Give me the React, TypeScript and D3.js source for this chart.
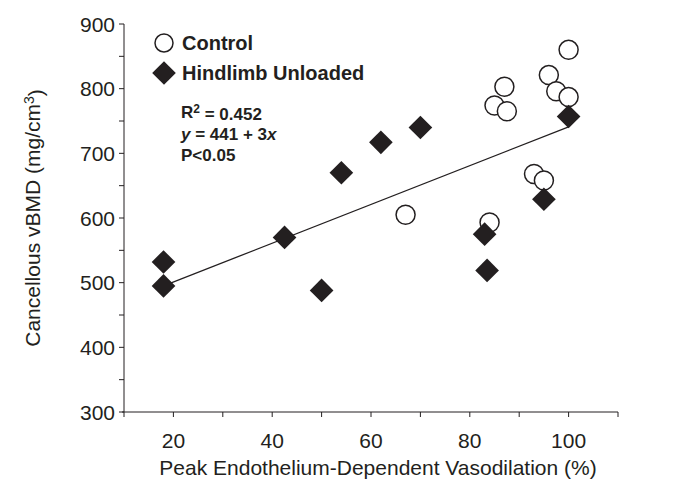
import { useEffect, useRef } from 'react';
import * as d3 from 'd3';

interface Point {
  x: number;
  y: number;
}

// Hindlimb unloaded group (filled diamonds)
const unloadedX = [18, 18, 42.5, 50, 54, 62, 70, 83, 83.5, 95, 100];
const unloadedY = [532, 495, 570, 488, 670, 717, 740, 575, 519, 629, 757];

// Control group (open circles)
const controlX = [67, 84, 85, 87, 87.5, 93, 95, 96, 97.5, 100, 100];
const controlY = [605, 593, 774, 803, 765, 668, 658, 821, 796, 787, 860];

const xTicks = [20, 40, 60, 80, 100];
const yTicks = [300, 400, 500, 600, 700, 800, 900];
const fitRange = [18, 100];
const fitIntercept = 441;
const fitSlope = 3;

const unloaded: Point[] = unloadedX.map((x, i) => ({ x, y: unloadedY[i] }));
const control: Point[] = controlX.map((x, i) => ({ x, y: controlY[i] }));

const INK = '#231f20';
const FONT = '"Liberation Sans", Arial, sans-serif';

const App = () => {
  const ref = useRef<SVGSVGElement>(null);

  useEffect(() => {
    if (!ref.current) return;
    const svg = d3.select(ref.current);
    svg.selectAll('*').remove();

    const x = d3.scaleLinear().domain([10, 110]).range([124, 618]);
    const y = d3.scaleLinear().domain([300, 900]).range([412, 24]);

    const g = svg.append('g');

    // y axis
    g.append('line')
      .attr('x1', x(10)).attr('x2', x(10))
      .attr('y1', y(300)).attr('y2', y(900))
      .attr('stroke', INK).attr('stroke-width', 1);
    d3.range(300, 901, 50).forEach(v => {
      g.append('line')
        .attr('x1', x(10) - 5).attr('x2', x(10))
        .attr('y1', y(v)).attr('y2', y(v))
        .attr('stroke', INK).attr('stroke-width', 1);
    });
    g.selectAll('.ytick')
      .data(yTicks)
      .enter()
      .append('text')
      .attr('x', x(10) - 9)
      .attr('y', d => y(d))
      .attr('dy', '0.36em')
      .attr('text-anchor', 'end')
      .style('font-family', FONT)
      .style('font-size', '21px')
      .style('fill', INK)
      .text(d => d);

    // x axis
    g.append('line')
      .attr('x1', x(10) - 2).attr('x2', x(110))
      .attr('y1', y(300)).attr('y2', y(300))
      .attr('stroke', INK).attr('stroke-width', 1);
    d3.range(10, 111, 10).forEach(v => {
      g.append('line')
        .attr('x1', x(v)).attr('x2', x(v))
        .attr('y1', y(300)).attr('y2', y(300) + 5)
        .attr('stroke', INK).attr('stroke-width', 1);
    });
    g.selectAll('.xtick')
      .data(xTicks)
      .enter()
      .append('text')
      .attr('x', d => x(d))
      .attr('y', y(300) + 36)
      .attr('text-anchor', 'middle')
      .style('font-family', FONT)
      .style('font-size', '21px')
      .style('fill', INK)
      .text(d => d);

    // axis titles
    g.append('text')
      .attr('x', 378)
      .attr('y', 475)
      .attr('text-anchor', 'middle')
      .style('font-family', FONT)
      .style('font-size', '21px')
      .style('fill', INK)
      .text('Peak Endothelium-Dependent Vasodilation (%)');

    const yTitle = g.append('text')
      .attr('transform', `translate(40, ${y(600)}) rotate(-90)`)
      .attr('text-anchor', 'middle')
      .style('font-family', FONT)
      .style('font-size', '21px')
      .style('fill', INK);
    yTitle.append('tspan').text('Cancellous vBMD (mg/cm');
    yTitle.append('tspan').attr('dy', '-0.45em').style('font-size', '14px').text('3');
    yTitle.append('tspan').attr('dy', '0.45em').text(')');

    // regression line
    g.append('line')
      .attr('x1', x(fitRange[0])).attr('y1', y(fitIntercept + fitSlope * fitRange[0]))
      .attr('x2', x(fitRange[1])).attr('y2', y(fitIntercept + fitSlope * fitRange[1]))
      .attr('stroke', INK).attr('stroke-width', 1.3);

    const diamond = d3.symbol().type(d3.symbolSquare).size(280);

    // control circles
    g.selectAll('.ctrl')
      .data(control)
      .enter()
      .append('circle')
      .attr('cx', d => x(d.x))
      .attr('cy', d => y(d.y))
      .attr('r', 9.5)
      .attr('fill', 'white')
      .attr('stroke', INK)
      .attr('stroke-width', 1.5);

    // unloaded diamonds
    g.selectAll('.hu')
      .data(unloaded)
      .enter()
      .append('path')
      .attr('d', diamond() || '')
      .attr('transform', d => `translate(${x(d.x)}, ${y(d.y)}) rotate(45)`)
      .attr('fill', INK);

    // legend
    g.append('circle')
      .attr('cx', 164).attr('cy', 43).attr('r', 9)
      .attr('fill', 'white').attr('stroke', INK).attr('stroke-width', 1.5);
    g.append('path')
      .attr('d', diamond() || '')
      .attr('transform', 'translate(164, 73) rotate(45)')
      .attr('fill', INK);
    [['Control', 43], ['Hindlimb Unloaded', 73]].forEach(([label, ly]) => {
      g.append('text')
        .attr('x', 182).attr('y', ly as number)
        .attr('dy', '0.36em')
        .style('font-family', FONT)
        .style('font-size', '20px')
        .style('font-weight', 'bold')
        .style('fill', INK)
        .text(label as string);
    });

    // stats annotation
    const stats = g.append('g')
      .style('font-family', FONT)
      .style('font-size', '17px')
      .style('font-weight', 'bold')
      .style('fill', INK);
    const r2 = stats.append('text').attr('x', 181).attr('y', 118);
    r2.append('tspan').text('R');
    r2.append('tspan').attr('dy', '-0.4em').style('font-size', '12px').text('2');
    r2.append('tspan').attr('dy', '0.4em').text(' = 0.452');
    const eq = stats.append('text').attr('x', 181).attr('y', 140);
    eq.append('tspan').style('font-style', 'italic').text('y');
    eq.append('tspan').text(' = 441 + 3');
    eq.append('tspan').style('font-style', 'italic').text('x');
    stats.append('text').attr('x', 181).attr('y', 161).text('P<0.05');
  }, []);

  return (
    <svg ref={ref} width={686} height={484}
      style={{ position: 'absolute', left: 0, top: 0, background: 'white' }} />
  );
};

export default App;
